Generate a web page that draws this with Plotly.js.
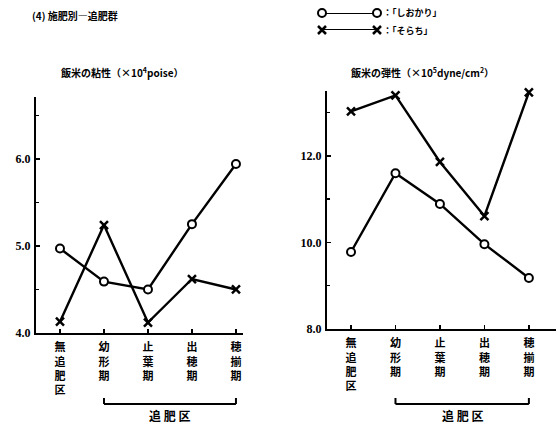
<!DOCTYPE html>
<html><head><meta charset="utf-8">
<script src="https://cdn.plot.ly/plotly-3.0.1.min.js"></script>
<style>html,body{margin:0;padding:0;background:#fff}#c{width:560px;height:426px}</style>
</head><body><div id="c"></div>
<script>
// ---- data ----
const categories = ['無追肥区', '幼形期', '止葉期', '出穂期', '穂揃期'];
const seriesNames = ['「しおかり」', '「そらち」'];
const viscShiokari = [4.97, 4.59, 4.50, 5.25, 5.94];
const viscSorachi  = [4.13, 5.24, 4.12, 4.62, 4.50];
const elasShiokari = [9.78, 11.60, 10.89, 9.96, 9.18];
const elasSorachi  = [13.03, 13.40, 11.86, 10.61, 13.47];
const leftTicks = [4, 5, 6];
const leftTickText = ['4.0', '5.0', '6.0'];
const rightTicks = [8, 10, 12];
const rightTickText = ['8.0', '10.0', '12.0'];

// ---- layout helpers ----
const W = 560, H = 426;
const fx = p => p / W, fy = p => 1 - p / H;
const serif = 'Liberation Serif, DejaVu Serif, serif';
const cjk = 'Noto Sans CJK JP, Noto Sans CJK SC, sans-serif';
const vert = s => s.split('').join('<br>');

const lineStyle = {color: '#000', width: 2.4};
const circ = {symbol: 'circle', size: 8, color: '#fff', line: {color: '#000', width: 2}};
const cross = {symbol: 'x-thin', size: 8, color: '#000', line: {color: '#000', width: 2.5}};

const traces = [
  {x: categories, y: viscShiokari, xaxis: 'x', yaxis: 'y', mode: 'lines+markers', line: lineStyle, marker: circ, cliponaxis: false, name: seriesNames[0]},
  {x: categories, y: viscSorachi, xaxis: 'x', yaxis: 'y', mode: 'lines+markers', line: lineStyle, marker: cross, cliponaxis: false, name: seriesNames[1]},
  {x: categories, y: elasShiokari, xaxis: 'x2', yaxis: 'y2', mode: 'lines+markers', line: lineStyle, marker: circ, cliponaxis: false, name: seriesNames[0]},
  {x: categories, y: elasSorachi, xaxis: 'x2', yaxis: 'y2', mode: 'lines+markers', line: lineStyle, marker: cross, cliponaxis: false, name: seriesNames[1]},
  // legend glyphs (markers at both ends)
  {x: [0, 1], y: [1, 1], xaxis: 'x3', yaxis: 'y3', mode: 'lines+markers', line: {color: '#000', width: 1.8}, marker: circ, cliponaxis: false},
  {x: [0, 1], y: [0, 0], xaxis: 'x3', yaxis: 'y3', mode: 'lines+markers', line: {color: '#000', width: 1.8}, marker: cross, cliponaxis: false}
];

const xCommon = {
  type: 'category', categoryarray: categories, tickmode: 'array', tickvals: categories,
  ticktext: categories.map(vert), ticks: 'inside', ticklen: 4, tickwidth: 1.5, tickcolor: '#000',
  showline: true, linewidth: 2, linecolor: '#000', showgrid: false, zeroline: false,
  tickfont: {family: cjk, size: 11, color: '#000', weight: 'bold'}, ticklabelstandoff: 3, fixedrange: true
};
const yCommon = {
  tickmode: 'array', ticks: 'inside', ticklen: 4, tickwidth: 1.5, tickcolor: '#000',
  showline: true, linewidth: 2, linecolor: '#000', showgrid: false, zeroline: false,
  tickfont: {family: serif, size: 12, color: '#000', weight: 'bold'}, ticklabelstandoff: 1
};

const layout = {
  width: W, height: H, margin: {l: 0, r: 0, t: 0, b: 0},
  paper_bgcolor: '#fff', plot_bgcolor: 'rgba(0,0,0,0)', showlegend: false,
  xaxis: Object.assign({}, xCommon, {domain: [fx(36), fx(243)], range: [-0.545, 4.16], anchor: 'y'}),
  yaxis: Object.assign({}, yCommon, {domain: [fy(333), fy(97)], range: [4.0, 6.71], anchor: 'x',
    tickvals: leftTicks, ticktext: leftTickText,
    minor: {tickmode: 'linear', tick0: 4, dtick: 0.5, ticks: 'inside', ticklen: 3, tickcolor: '#000'}}),
  xaxis2: Object.assign({}, xCommon, {domain: [fx(327), fx(556)], range: [-0.54, 4.61], anchor: 'y2'}),
  yaxis2: Object.assign({}, yCommon, {domain: [fy(329), fy(91)], range: [8.0, 13.5], anchor: 'x2',
    tickvals: rightTicks, ticktext: rightTickText,
    minor: {tickmode: 'linear', tick0: 8, dtick: 1, ticks: 'inside', ticklen: 3, tickcolor: '#000'}}),
  xaxis3: {domain: [fx(322), fx(377)], range: [0, 1], visible: false, anchor: 'y3', fixedrange: true},
  yaxis3: {domain: [fy(30), fy(13)], range: [0, 1], visible: false, anchor: 'x3', fixedrange: true},
  shapes: [
    // brackets under the fertilized periods
    {type: 'line', xref: 'x', yref: 'paper', x0: 1, x1: 4, y0: fy(404), y1: fy(404), line: {color: '#000', width: 2}},
    {type: 'line', xref: 'x', yref: 'paper', x0: 1, x1: 1, y0: fy(404), y1: fy(398), line: {color: '#000', width: 2}},
    {type: 'line', xref: 'x', yref: 'paper', x0: 4, x1: 4, y0: fy(404), y1: fy(398), line: {color: '#000', width: 2}},
    {type: 'line', xref: 'x2', yref: 'paper', x0: 1, x1: 4, y0: fy(404), y1: fy(404), line: {color: '#000', width: 2}},
    {type: 'line', xref: 'x2', yref: 'paper', x0: 1, x1: 1, y0: fy(404), y1: fy(398), line: {color: '#000', width: 2}},
    {type: 'line', xref: 'x2', yref: 'paper', x0: 4, x1: 4, y0: fy(404), y1: fy(398), line: {color: '#000', width: 2}}
  ],
  annotations: [
    {text: '(4) 施肥別―追肥群', xref: 'paper', yref: 'paper', x: fx(30), y: fy(16), xanchor: 'left', yanchor: 'middle', showarrow: false,
     font: {family: cjk, size: 10, color: '#000', weight: 'bold'}},
    {text: '飯米の粘性（×10<sup>4</sup>poise）', xref: 'paper', yref: 'paper', x: fx(122), y: fy(72), xanchor: 'center', yanchor: 'middle', showarrow: false,
     font: {family: cjk, size: 10, color: '#000', weight: 'bold'}},
    {text: '飯米の弾性（×10<sup>5</sup>dyne/cm<sup>2</sup>）', xref: 'paper', yref: 'paper', x: fx(422), y: fy(72), xanchor: 'center', yanchor: 'middle', showarrow: false,
     font: {family: cjk, size: 10, color: '#000', weight: 'bold'}},
    {text: '：' + seriesNames[0], xref: 'paper', yref: 'paper', x: fx(381), y: fy(13), xanchor: 'left', yanchor: 'middle', showarrow: false,
     font: {family: cjk, size: 9, color: '#000', weight: 'bold'}},
    {text: '：' + seriesNames[1], xref: 'paper', yref: 'paper', x: fx(381), y: fy(30), xanchor: 'left', yanchor: 'middle', showarrow: false,
     font: {family: cjk, size: 9, color: '#000', weight: 'bold'}},
    {text: '追 肥 区', xref: 'x', yref: 'paper', x: 2.5, y: fy(415), xanchor: 'center', yanchor: 'middle', showarrow: false,
     font: {family: cjk, size: 12, color: '#000', weight: 'bold'}},
    {text: '追 肥 区', xref: 'x2', yref: 'paper', x: 2.5, y: fy(415), xanchor: 'center', yanchor: 'middle', showarrow: false,
     font: {family: cjk, size: 12, color: '#000', weight: 'bold'}}
  ]
};

Plotly.newPlot('c', traces, layout, {staticPlot: true, displayModeBar: false});
</script></body></html>
